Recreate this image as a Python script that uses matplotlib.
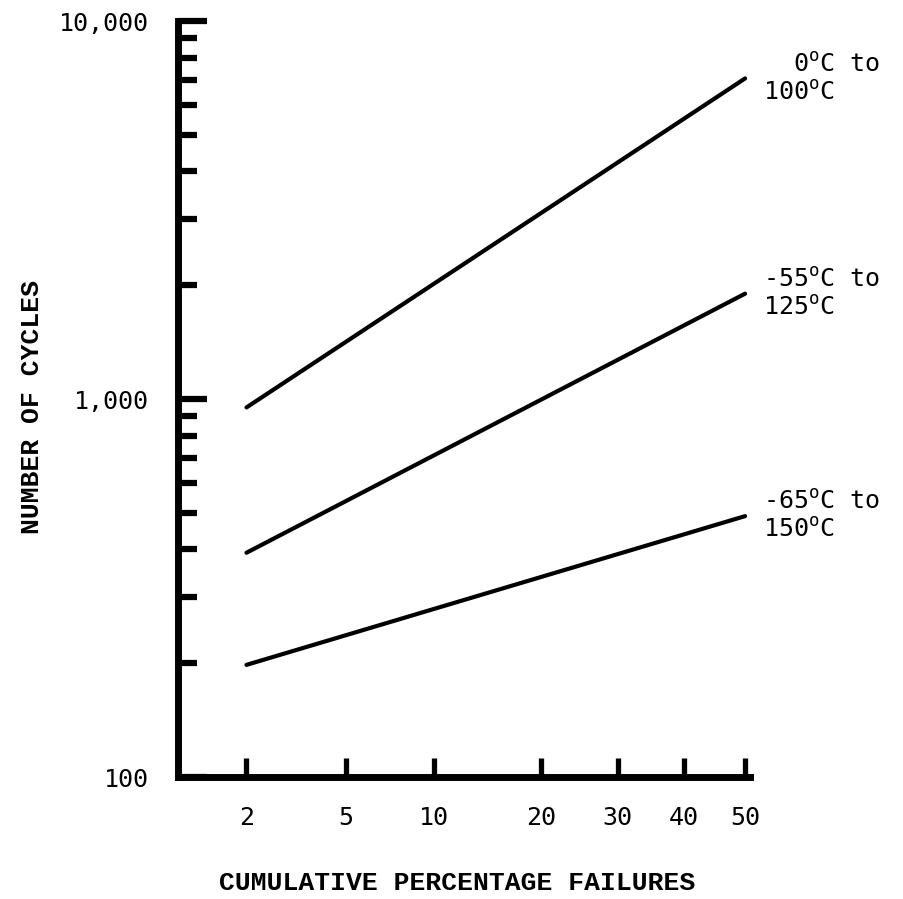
"""
Cycles-to-failure vs cumulative percentage failures (lognormal probability plot).
"""
from statistics import NormalDist

import numpy as np
import matplotlib
matplotlib.use('Agg')
import matplotlib.pyplot as plt
from matplotlib.ticker import FixedLocator, LogLocator, NullFormatter

# data
pct_ticks = [2, 5, 10, 20, 30, 40, 50]
pct_ends = [2, 50]
cycles_0_100 = [950, 7050]
cycles_55_125 = [392, 1900]
cycles_65_150 = [198, 490]
series = [cycles_0_100, cycles_55_125, cycles_65_150]
series_labels = [
    "  0$^{\\mathregular{o}}$C to\n100$^{\\mathregular{o}}$C",
    "-55$^{\\mathregular{o}}$C to\n125$^{\\mathregular{o}}$C",
    "-65$^{\\mathregular{o}}$C to\n150$^{\\mathregular{o}}$C",
]
y_major = [100, 1000, 10000]
y_major_labels = ["100", "1,000", "10,000"]

_nd = NormalDist()
_ppf = np.vectorize(lambda v: _nd.inv_cdf(v / 100.0), otypes=[float])
_cdf = np.vectorize(lambda v: _nd.cdf(v) * 100.0, otypes=[float])


def prob_forward(p):
    p = np.clip(np.asarray(p, dtype=float), 1e-6, 100 - 1e-6)
    return _ppf(p)


def prob_inverse(z):
    return _cdf(np.asarray(z, dtype=float))


mono = 'DejaVu Sans Mono'
plt.rcParams['mathtext.fontset'] = 'custom'
plt.rcParams['mathtext.rm'] = mono

fig = plt.figure(figsize=(9.04, 8.99), dpi=100)
ax = fig.add_axes([0.1969, 0.1357, 0.6327, 0.8409])

ax.set_xscale('function', functions=(prob_forward, prob_inverse))
ax.set_yscale('log')
ax.set_xlim(0.975, 50.8)
ax.set_ylim(100, 10000)

for vals, label in zip(series, series_labels):
    ax.plot(pct_ends, vals, color='black', linewidth=3, solid_capstyle='round')
    ax.text(1.0227, vals[-1], label, transform=ax.get_yaxis_transform(),
            ha='left', va='center', fontsize=18, family=mono, linespacing=1.2)

# spines
for side in ('top', 'right'):
    ax.spines[side].set_visible(False)
for side in ('left', 'bottom'):
    ax.spines[side].set_linewidth(5)
    ax.spines[side].set_capstyle('projecting')

# x ticks
ax.xaxis.set_major_locator(FixedLocator(pct_ticks))
ax.set_xticklabels([str(t) for t in pct_ticks])
ax.xaxis.set_minor_locator(FixedLocator([]))
ax.tick_params(axis='x', which='major', direction='in', length=14, width=3.8,
               pad=21, labelsize=18)

# y ticks
ax.yaxis.set_major_locator(FixedLocator(y_major))
ax.set_yticklabels(y_major_labels)
ax.yaxis.set_minor_locator(LogLocator(base=10, subs=np.arange(2, 10)))
ax.yaxis.set_minor_formatter(NullFormatter())
ax.tick_params(axis='y', which='major', direction='in', length=21, width=4.5,
               pad=21, labelsize=18)
ax.tick_params(axis='y', which='minor', direction='in', length=14, width=4.5)

for lab in ax.get_xticklabels() + ax.get_yticklabels():
    lab.set_family(mono)

ax.set_xlabel('CUMULATIVE PERCENTAGE FAILURES', family='Liberation Mono',
              fontsize=19, fontweight='bold', va='center')
ax.xaxis.set_label_coords(0.488, -0.1404)
ax.set_ylabel('NUMBER OF CYCLES', family='Liberation Mono',
              fontsize=19, fontweight='bold', va='center')
ax.yaxis.set_label_coords(-0.255, 0.49)

fig.savefig('out.png', dpi=100)
